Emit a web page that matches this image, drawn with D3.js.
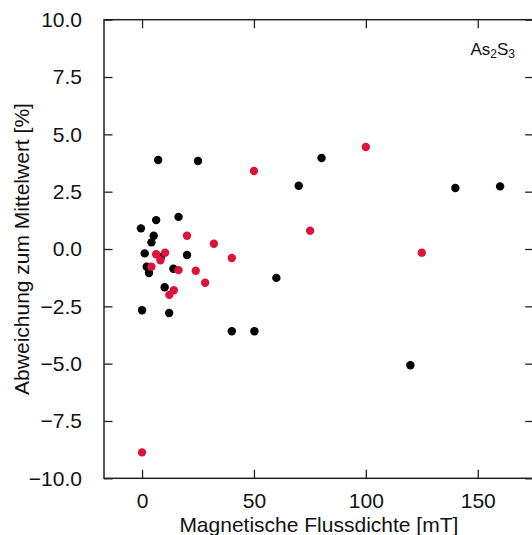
<!DOCTYPE html>
<html><head><meta charset="utf-8">
<script src="https://cdn.jsdelivr.net/npm/d3@7"></script>
<style>body{margin:0;background:#fff;overflow:hidden}svg{display:block}text{font-family:"Liberation Sans",Arial,sans-serif;fill:#111}</style>
</head><body>
<script>
const blackX = [-0.5, 6.3, 16.3, 5.2, 4.2, 1.2, 20.1, 2.1, 3.1, 14.0, 10.1, 0, 12.1, 8.4, 7.2, 25.0, 80.2, 70.0, 140.0, 160.0, 60.0, 40.1, 50.2, 119.9];
const blackY = [0.9, 1.26, 1.4, 0.58, 0.29, -0.19, -0.26, -0.77, -1.05, -0.86, -1.67, -2.67, -2.79, -0.36, 3.88, 3.84, 3.97, 2.76, 2.66, 2.73, -1.26, -3.59, -3.59, -5.07];
const redX = [0, 20.1, 32.1, 6.3, 10.3, 8.2, 4.2, 16.3, 24.0, 28.2, 14.2, 12.2, 50, 100, 75.1, 40.1, 125];
const redY = [-8.87, 0.58, 0.23, -0.23, -0.16, -0.49, -0.77, -0.92, -0.95, -1.47, -1.8, -2.0, 3.40, 4.45, 0.80, -0.39, -0.16];
const xTicks = [0, 50, 100, 150];
const yTicks = [-10, -7.5, -5, -2.5, 0, 2.5, 5, 7.5, 10];
const xLabel = "Magnetische Flussdichte [mT]";
const yLabel = "Abweichung zum Mittelwert [%]";

const W = 532, H = 535;
const L = 104, R = 533.7, T = 19.7, B = 478.3;
const svg = d3.select("body").append("svg").attr("width", W).attr("height", H);
const x = d3.scaleLinear().domain([-17, 175]).range([L, R]);
const y = d3.scaleLinear().domain([-10, 10]).range([B, T]);
const tl = 8.5;
const fmt = d3.format(".1f");

// axes (ticks inward)
svg.append("g").attr("transform", `translate(0,${B})`)
  .call(d3.axisBottom(x).tickValues(xTicks).tickSize(-tl).tickPadding(16).tickFormat(d3.format("d")))
  .call(g => { g.select(".domain").remove(); g.selectAll("text").attr("font-size", 21).attr("dy", "0.71em").attr("y", 15); });
svg.append("g").attr("transform", `translate(0,${T})`)
  .call(d3.axisTop(x).tickValues(xTicks).tickSize(-tl).tickFormat(""))
  .call(g => g.select(".domain").remove());
svg.append("g").attr("transform", `translate(${L},0)`)
  .call(d3.axisLeft(y).tickValues(yTicks).tickSize(-tl).tickPadding(22).tickFormat(fmt))
  .call(g => { g.select(".domain").remove(); g.selectAll("text").attr("font-size", 21); });
svg.append("g").attr("transform", `translate(${R},0)`)
  .call(d3.axisRight(y).tickValues(yTicks).tickSize(-tl).tickFormat(""))
  .call(g => g.select(".domain").remove());
svg.selectAll(".tick line").attr("stroke", "#222").attr("stroke-width", 1.3);

svg.append("rect").attr("x", L).attr("y", T).attr("width", R - L).attr("height", B - T)
  .attr("fill", "none").attr("stroke", "#222").attr("stroke-width", 1.5);

// points
svg.append("g").selectAll("circle").data(blackX.map((d, i) => [d, blackY[i]])).join("circle")
  .attr("cx", d => x(d[0])).attr("cy", d => y(d[1])).attr("r", 4.2).attr("fill", "#000");
svg.append("g").selectAll("circle").data(redX.map((d, i) => [d, redY[i]])).join("circle")
  .attr("cx", d => x(d[0])).attr("cy", d => y(d[1])).attr("r", 4.2).attr("fill", "#dc143c");

// labels
svg.append("text").attr("x", (L + R) / 2).attr("y", 532).attr("text-anchor", "middle").attr("font-size", 21).text(xLabel);
svg.append("text").attr("transform", `translate(29,${(T + B) / 2}) rotate(-90)`).attr("text-anchor", "middle").attr("font-size", 21).text(yLabel);
const ann = svg.append("text").attr("x", 515).attr("y", 55).attr("text-anchor", "end").attr("font-size", 17);
ann.append("tspan").text("As");
ann.append("tspan").attr("font-size", 12).attr("dy", 3).text("2");
ann.append("tspan").attr("dy", -3).text("S");
ann.append("tspan").attr("font-size", 12).attr("dy", 3).text("3");
</script>
</body></html>
